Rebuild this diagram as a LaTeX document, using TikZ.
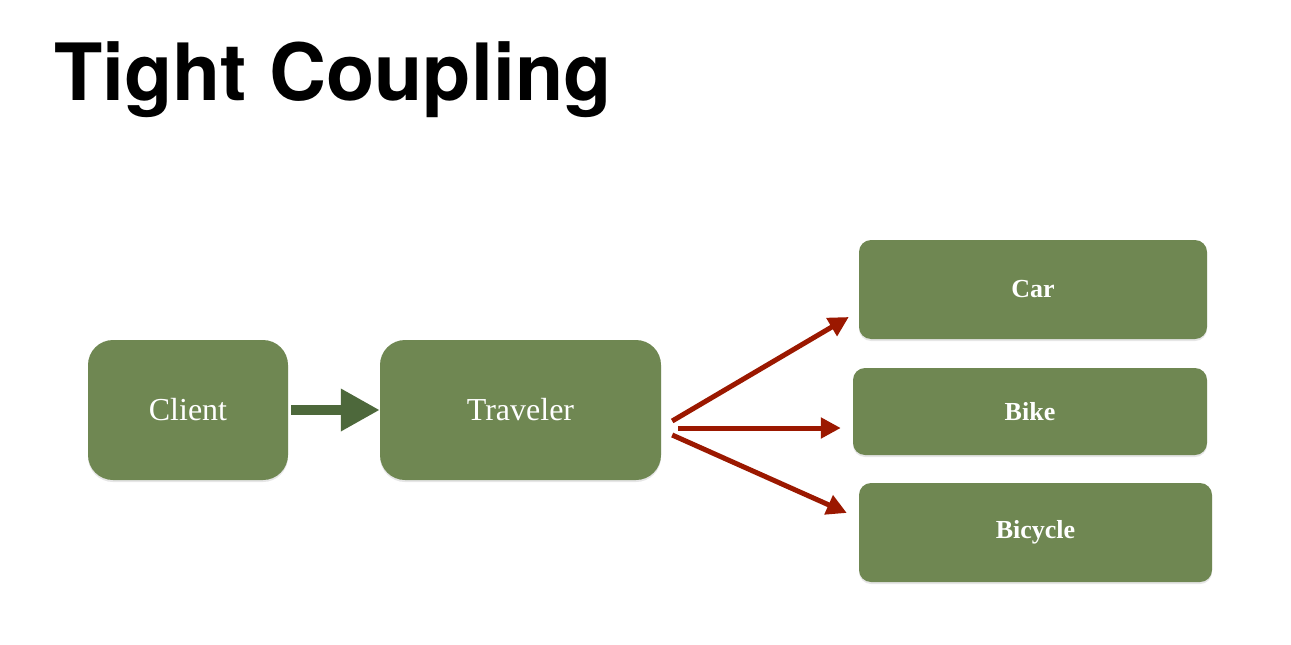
\documentclass[tikz,border=0pt]{standalone}
\usepackage{fontspec}
\setmainfont{Liberation Serif}
\newfontfamily\headfont{TeX Gyre Heros}
\usetikzlibrary{arrows.meta,calc,shadows}
\definecolor{boxgreen}{RGB}{111,135,82}
\definecolor{arrowgreen}{RGB}{77,104,59}
\definecolor{arrowred}{RGB}{155,24,0}
\begin{document}
\begin{tikzpicture}[x=1pt, y=-1pt, line join=round,
		box/.style={fill=boxgreen, text=white, inner sep=0pt, drop shadow={shadow xshift=0pt, shadow yshift=-2pt, opacity=0.2}},
		bigbox/.style={box, rounded corners=25pt, minimum height=140pt, font=\fontsize{32}{32}\selectfont},
		smallbox/.style={box, rounded corners=12pt, font=\bfseries\fontsize{26}{26}\selectfont},
		redarrow/.style={draw=arrowred, line width=5pt, -{Triangle[length=20pt, width=20pt]}}]
	\useasboundingbox (0,0) rectangle (1291,645);
	\node[anchor=base west, inner sep=0pt, font=\headfont\bfseries\fontsize{79}{79}\selectfont] (title) at (54,100) {Tight Coupling};
	% left part
	\node[bigbox, minimum width=200pt] (client) at (188,410) {Client};
	\node[bigbox, minimum width=281pt] (traveler) at (520.5,410) {Traveler};
	\draw[arrowgreen, line width=10pt, -{Triangle[length=39pt, width=40pt]}, shorten <=3pt] (client.east) -- (traveler.west);
	% vehicles
	\node[smallbox, minimum width=348pt, minimum height=99pt] (car) at (1033,289.5) {Car};
	\node[smallbox, minimum width=354pt, minimum height=87pt] (bike) at (1030,411.5) {Bike};
	\node[smallbox, minimum width=353pt, minimum height=99pt] (bicycle) at (1035.5,532.5) {Bicycle};
	\draw[redarrow, shorten >=11.6pt] ($(traveler.east)+(11,11)$) -- ($(car.west)+(0,21.6)$);
	\draw[redarrow, shorten >=12pt] ($(traveler.east)+(17,18)$) -- ($(bike.west)+(0,16.5)$);
	\draw[redarrow, shorten >=13.1pt] ($(traveler.east)+(11,25)$) -- ($(bicycle.west)+(0,-14.2)$);
\end{tikzpicture}
\end{document}
